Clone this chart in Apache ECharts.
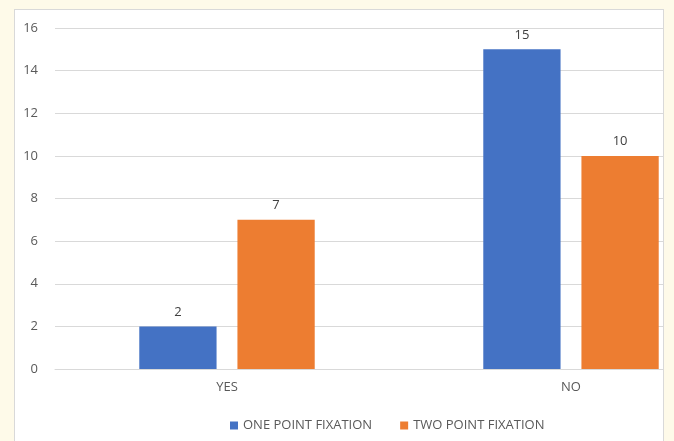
<!DOCTYPE html>
<html><head><meta charset="utf-8">
<script src="https://cdn.jsdelivr.net/npm/echarts@6/dist/echarts.min.js"></script>
<style>
html,body{margin:0;padding:0;background:#FEFAE9;width:674px;height:441px;overflow:hidden;}
#box{position:absolute;left:14px;top:9px;width:648px;height:440px;background:#fff;border:1px solid #D9D9D9;overflow:hidden;}
#chart{position:absolute;left:0;top:0;width:728px;height:432px;}
</style></head>
<body><div id="box"><div id="chart"></div></div>
<script>
const categories = ['YES', 'NO'];
const onePoint = [2, 15];
const twoPoint = [7, 10];
const seriesNames = ['ONE POINT FIXATION', 'TWO POINT FIXATION'];
const colors = ['#4472C4', '#ED7D31'];

const chart = echarts.init(document.getElementById('chart'));
const font = '"Open Sans", "Liberation Sans", sans-serif';
chart.setOption({
  animation: false,
  textStyle: {fontFamily: font},
  grid: {left: 40, right: 0, top: 18, bottom: 73, containLabel: false},
  legend: {
    data: seriesNames, top: 404, left: 210, itemWidth: 8, itemHeight: 8, itemGap: 28,
    icon: 'rect', textStyle: {color: '#595959', fontSize: 13, fontFamily: font}
  },
  xAxis: {
    type: 'category', data: categories,
    axisLine: {lineStyle: {color: '#D9D9D9'}}, axisTick: {show: false},
    axisLabel: {color: '#595959', fontSize: 13, margin: 12, fontFamily: font}
  },
  yAxis: {
    type: 'value', min: 0, max: 16, interval: 2,
    axisLine: {show: false}, axisTick: {show: false},
    splitLine: {lineStyle: {color: '#D9D9D9'}},
    axisLabel: {color: '#595959', fontSize: 13, margin: 17, fontFamily: font}
  },
  series: [
    {name: seriesNames[0], type: 'bar', data: onePoint, barGap: '27%', barCategoryGap: '49%',
     itemStyle: {color: colors[0]},
     label: {show: true, position: 'top', distance: 8, color: '#404040', fontSize: 13, fontFamily: font}},
    {name: seriesNames[1], type: 'bar', data: twoPoint,
     itemStyle: {color: colors[1]},
     label: {show: true, position: 'top', distance: 8, color: '#404040', fontSize: 13, fontFamily: font}}
  ]
});
</script></body></html>
